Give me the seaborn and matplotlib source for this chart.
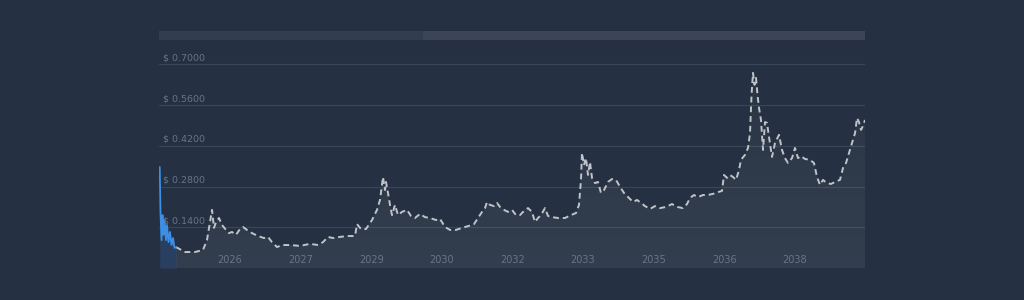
import numpy as np
import pandas as pd
import matplotlib
matplotlib.use("Agg")
import matplotlib.pyplot as plt
import seaborn as sns
from matplotlib.patches import Rectangle

# ---- data (decimal years, USD price) ----
hist_years = [2024.507, 2024.523, 2024.545, 2024.566, 2024.587, 2024.609, 2024.640,
              2024.662, 2024.693, 2024.725, 2024.757, 2024.789, 2024.821, 2024.853]
hist_price = [0.347, 0.193, 0.096, 0.182, 0.114, 0.165, 0.096,
              0.148, 0.089, 0.124, 0.079, 0.103, 0.069, 0.072]

fc_years = [2024.853, 2025.044, 2025.256, 2025.426, 2025.511, 2025.575, 2025.618, 2025.660,
            2025.703, 2025.766, 2025.830, 2025.915, 2025.979, 2026.042, 2026.127, 2026.212,
            2026.276, 2026.361, 2026.467, 2026.595, 2026.722, 2026.807, 2026.892, 2026.999,
            2027.105, 2027.275, 2027.487, 2027.700, 2027.870, 2027.976, 2028.082, 2028.188,
            2028.337, 2028.507, 2028.656, 2028.698, 2028.783, 2028.889, 2029.017, 2029.123,
            2029.187, 2029.229, 2029.250, 2029.293, 2029.314, 2029.357, 2029.399, 2029.442,
            2029.505, 2029.569, 2029.654, 2029.760, 2029.845, 2029.930, 2030.036, 2030.143,
            2030.249, 2030.376, 2030.461, 2030.568, 2030.674, 2030.801, 2030.929, 2031.056,
            2031.184, 2031.269, 2031.354, 2031.417, 2031.460, 2031.524, 2031.609, 2031.672,
            2031.736, 2031.821, 2031.906, 2031.991, 2032.076, 2032.161, 2032.267, 2032.331,
            2032.416, 2032.480, 2032.543, 2032.607, 2032.692, 2032.756, 2032.841, 2032.968,
            2033.117, 2033.244, 2033.351, 2033.414, 2033.457, 2033.478, 2033.521, 2033.563,
            2033.606, 2033.648, 2033.691, 2033.754, 2033.818, 2033.882, 2033.946, 2034.031,
            2034.116, 2034.201, 2034.286, 2034.371, 2034.456, 2034.562, 2034.647, 2034.732,
            2034.817, 2034.923, 2035.029, 2035.135, 2035.263, 2035.390, 2035.497, 2035.624,
            2035.709, 2035.773, 2035.857, 2035.942, 2036.049, 2036.155, 2036.261, 2036.367,
            2036.452, 2036.495, 2036.559, 2036.622, 2036.686, 2036.750, 2036.814, 2036.856,
            2036.941, 2037.005, 2037.048, 2037.080, 2037.111, 2037.143, 2037.175, 2037.207,
            2037.239, 2037.281, 2037.324, 2037.366, 2037.409, 2037.451, 2037.515, 2037.579,
            2037.664, 2037.727, 2037.791, 2037.855, 2037.940, 2038.003, 2038.067, 2038.131,
            2038.216, 2038.322, 2038.407, 2038.471, 2038.535, 2038.598, 2038.683, 2038.768,
            2038.853, 2038.959, 2039.023, 2039.087, 2039.151, 2039.215, 2039.279, 2039.321,
            2039.363, 2039.406, 2039.448, 2039.490]
fc_price = [0.072, 0.055, 0.055, 0.062, 0.096, 0.158, 0.200, 0.138,
            0.158, 0.172, 0.148, 0.131, 0.120, 0.124, 0.114, 0.134,
            0.141, 0.131, 0.120, 0.110, 0.103, 0.107, 0.089, 0.072,
            0.079, 0.079, 0.076, 0.083, 0.079, 0.089, 0.107, 0.103,
            0.107, 0.110, 0.110, 0.151, 0.134, 0.134, 0.165, 0.200,
            0.234, 0.286, 0.313, 0.268, 0.296, 0.258, 0.217, 0.182,
            0.217, 0.182, 0.193, 0.200, 0.179, 0.172, 0.186, 0.175,
            0.172, 0.165, 0.169, 0.141, 0.131, 0.131, 0.138, 0.144,
            0.151, 0.172, 0.193, 0.206, 0.227, 0.217, 0.213, 0.224,
            0.210, 0.200, 0.193, 0.200, 0.182, 0.182, 0.200, 0.206,
            0.193, 0.158, 0.172, 0.182, 0.206, 0.179, 0.175, 0.172,
            0.172, 0.182, 0.189, 0.217, 0.303, 0.396, 0.354, 0.378,
            0.320, 0.365, 0.310, 0.292, 0.296, 0.258, 0.268, 0.296,
            0.306, 0.303, 0.279, 0.258, 0.244, 0.227, 0.234, 0.224,
            0.213, 0.203, 0.213, 0.206, 0.210, 0.220, 0.210, 0.206,
            0.220, 0.241, 0.251, 0.244, 0.251, 0.251, 0.255, 0.261,
            0.265, 0.320, 0.310, 0.320, 0.313, 0.303, 0.337, 0.372,
            0.389, 0.413, 0.464, 0.595, 0.671, 0.630, 0.654, 0.595,
            0.550, 0.509, 0.406, 0.502, 0.499, 0.451, 0.382, 0.430,
            0.458, 0.406, 0.378, 0.361, 0.378, 0.413, 0.378, 0.385,
            0.375, 0.372, 0.361, 0.313, 0.286, 0.303, 0.292, 0.289,
            0.296, 0.303, 0.344, 0.361, 0.396, 0.430, 0.464, 0.516,
            0.502, 0.475, 0.489, 0.509]

y_ticks = [0.14, 0.28, 0.42, 0.56, 0.70]
y_tick_labels = ["$ 0.1400", "$ 0.2800", "$ 0.4200", "$ 0.5600", "$ 0.7000"]
x_ticks = [2026.0, 2027.5, 2029.0, 2030.5, 2032.0, 2033.5, 2035.0, 2036.5, 2038.0]
x_tick_labels = ["2026", "2027", "2029", "2030", "2032", "2033", "2035", "2036", "2038"]

# ---- style ----
BG = "#253142"
GRID = "#3a4759"
TXT = "#66758a"
sns.set_theme(style="dark")
plt.rcParams["font.family"] = ["DejaVu Sans"]

fig = plt.figure(figsize=(10.24, 3.0), dpi=100, facecolor=BG)
W, H = 1024, 300
ax = fig.add_axes([159 / W, 32 / H, 706 / W, 227 / H])
ax.set_facecolor(BG)
for s in ax.spines.values():
    s.set_visible(False)

hist = pd.DataFrame({"year": hist_years, "price": hist_price})
fc = pd.DataFrame({"year": fc_years, "price": fc_price})

XMIN, XMAX, YMAX = 2024.4916, 2039.4906, 0.7807

# gradient fill under forecast (slightly lighter towards the bottom)
poly = ax.fill_between(fc["year"], fc["price"], 0, color="none", lw=0)
grad = np.linspace(0.065, 0.02, 256).reshape(-1, 1)
rgba = np.zeros((256, 1, 4))
rgba[..., :3] = 1.0
rgba[..., 3] = grad
im = ax.imshow(rgba, extent=[XMIN, XMAX, 0, YMAX], origin="lower",
               aspect="auto", zorder=1, interpolation="bilinear")
im.set_clip_path(poly.get_paths()[0], transform=ax.transData)

ax.fill_between(hist["year"], hist["price"], 0, color="#3a7bd5", alpha=0.2, lw=0, zorder=1)

for yt in y_ticks:
    ax.axhline(yt, color=GRID, lw=0.8, zorder=0.5)

sns.lineplot(data=fc, x="year", y="price", ax=ax, color="#c0c3c8", lw=1.4,
             linestyle=(0, (3, 2)), estimator=None, sort=False, zorder=3)
sns.lineplot(data=hist, x="year", y="price", ax=ax, color="#3d8fe6", lw=1.3,
             estimator=None, sort=False, zorder=4)

ax.set_xlim(XMIN, XMAX)
ax.set_ylim(0, YMAX)
ax.set_xlabel("")
ax.set_ylabel("")
ax.set_yticks([])
ax.set_xticks(x_ticks, x_tick_labels)
ax.tick_params(axis="x", length=0, pad=-9.5, labelsize=7, labelcolor="#5e6d80")
ax.grid(False)

for yt, lab in zip(y_ticks, y_tick_labels):
    ax.annotate(lab, xy=(0, yt), xycoords=("axes fraction", "data"),
                xytext=(3, 1.5), textcoords="offset points",
                ha="left", va="bottom", fontsize=6.8, color=TXT, zorder=5)

# navigator bar
nav = fig.add_axes([159 / W, (H - 40) / H, 706 / W, 9 / H])
nav.set_xlim(0, 706)
nav.set_ylim(0, 1)
nav.axis("off")
nav.add_patch(Rectangle((0, 0), 264, 1, color="#323d4e", lw=0))
nav.add_patch(Rectangle((264, 0), 442, 1, color="#3b4556", lw=0))

fig.savefig("out.png", dpi=100, facecolor=BG)
